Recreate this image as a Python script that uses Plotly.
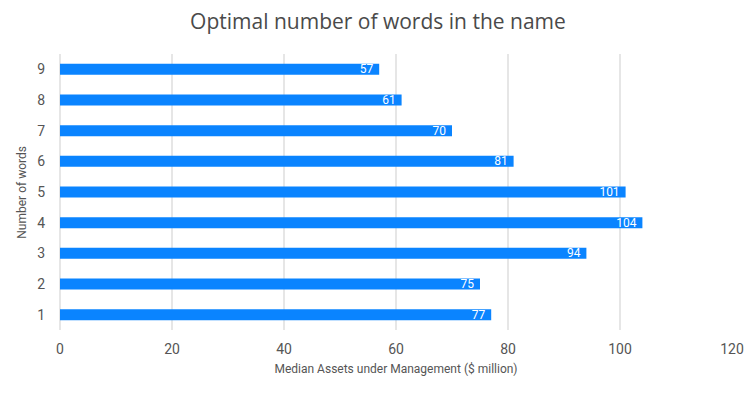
import plotly.graph_objects as go

categories = ["1", "2", "3", "4", "5", "6", "7", "8", "9"]
values = [77, 75, 94, 104, 101, 81, 70, 61, 57]
x_ticks = [0, 20, 40, 60, 80, 100, 120]

fig = go.Figure(go.Bar(
    y=categories, x=values, orientation="h",
    marker=dict(color="#0A84FF", line=dict(width=0)),
    text=[str(v) + " " for v in values], textposition="inside",
    insidetextanchor="end", textangle=0,
    textfont=dict(color="white", size=12, family="Roboto"),
    width=0.36,
))

fig.update_layout(
    width=755, height=397,
    paper_bgcolor="white", plot_bgcolor="white",
    margin=dict(l=52, r=31, t=46, b=75),
    uniformtext=dict(minsize=12, mode="show"),
    title=dict(text="Optimal number of words in the name", x=0.49, xanchor="center",
               y=0.965, yanchor="middle",
               font=dict(family="Open Sans", size=21, color="#4a4a4a")),
    xaxis=dict(range=[0, 120], tickvals=x_ticks, showgrid=True, gridcolor="#e6e6e6",
               gridwidth=1.5, zeroline=True, zerolinecolor="#e6e6e6", zerolinewidth=1.5,
               ticks="", ticklabelstandoff=9,
               automargin=False,
               tickfont=dict(family="Roboto", size=14, color="#555555"),
               title=dict(text="Median Assets under Management ($ million)", standoff=8,
                          font=dict(family="Roboto", size=12, color="#555555"))),
    yaxis=dict(categoryorder="array", categoryarray=categories, showgrid=False,
               automargin=False,
               tickfont=dict(family="Roboto", size=14, color="#555555"),
               ticklabelstandoff=14),
    annotations=[dict(text="Number of words", xref="paper", yref="paper",
                      x=-0.057, y=0.5, xanchor="center", yanchor="middle",
                      textangle=-90, showarrow=False,
                      font=dict(family="Roboto", size=12, color="#555555"))],
    showlegend=False,
)

fig.write_html("out.html")
